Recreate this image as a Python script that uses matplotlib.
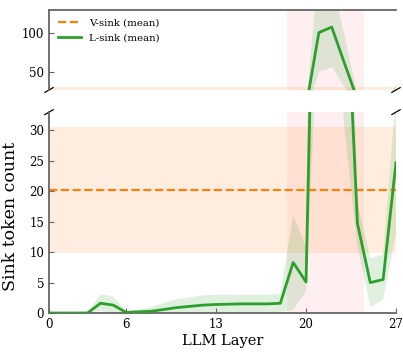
import numpy as np
import matplotlib
matplotlib.use('Agg')
import matplotlib.pyplot as plt

plt.rcParams['font.family'] = 'DejaVu Serif'

# Data
layers = list(range(28))
l_sink_mean = [0, 0, 0, 0, 1.6, 1.3, 0.1, 0.2, 0.3, 0.6, 0.9, 1.1, 1.3, 1.4,
               1.45, 1.5, 1.5, 1.5, 1.6, 8.3, 5.1, 101, 108, 61, 14.7, 5.0, 5.5, 24.7]
l_sink_upper = [0, 0, 0, 0, 3.1, 2.7, 0.3, 0.6, 1.0, 1.7, 2.3, 2.6, 2.9, 3.0,
                3.0, 3.0, 3.0, 3.0, 3.2, 16.0, 11.0, 200, 165, 95, 18.0, 9.0, 9.6, 36.0]
l_sink_lower = [0, 0, 0, 0, 0.3, 0.0, 0.0, 0.0, 0.0, 0.0, 0.0, 0.0, 0.0, 0.1,
                0.1, 0.1, 0.1, 0.1, 0.2, 0.5, 3.5, 51, 57, 30, 11.0, 1.0, 2.2, 13.0]
v_sink_mean = 20.15
v_sink_std = 10.35
highlight_layers = (18.5, 24.5)
xticks = [0, 6, 13, 20, 27]

ORANGE = '#ff7f0e'
GREEN = '#2ca02c'
SPINE = '#666666'

fig = plt.figure(figsize=(4.03, 3.53), dpi=100)
ax_top = fig.add_axes([0.1216, 0.745, 0.861, 0.2266])
ax_bot = fig.add_axes([0.1216, 0.1133, 0.861, 0.569])

for ax in (ax_top, ax_bot):
    ax.axvspan(*highlight_layers, color='#ffc0c8', alpha=0.25, lw=0, zorder=0)
    ax.axhspan(v_sink_mean - v_sink_std, v_sink_mean + v_sink_std,
               color=ORANGE, alpha=0.13, lw=0, zorder=0)
    ax.axhline(v_sink_mean, color=ORANGE, ls='--', lw=1.6, label='V-sink (mean)', zorder=2)
    ax.fill_between(layers, l_sink_lower, l_sink_upper, color=GREEN, alpha=0.15,
                    lw=0, zorder=1)
    ax.plot(layers, l_sink_mean, color=GREEN, lw=2, label='L-sink (mean)', zorder=3)
    ax.set_xlim(0, 27)
    ax.tick_params(direction='in', labelsize=8.5, color=SPINE, length=3.5)
    ax.spines['right'].set_visible(False)
    for s in ('left', 'top', 'bottom'):
        ax.spines[s].set_color(SPINE)
        ax.spines[s].set_linewidth(1.3)

ax_top.set_ylim(27, 130)
ax_top.set_yticks([50, 100])
ax_top.spines['bottom'].set_visible(False)
ax_top.tick_params(bottom=False, labelbottom=False)

ax_bot.set_ylim(0, 33)
ax_bot.set_yticks([0, 5, 10, 15, 20, 25, 30])
ax_bot.set_xticks(xticks)
ax_bot.spines['top'].set_visible(False)

ax_bot.set_xlabel('LLM Layer', fontsize=10.5, labelpad=2)
ax_bot.set_ylabel('Sink token count', fontsize=12.5)
ax_bot.yaxis.set_label_coords(-0.086, 0.483)

ax_top.legend(loc='upper left', frameon=False, fontsize=7.3, handlelength=2.3,
              borderaxespad=0.45, labelspacing=0.6)

# break marks
d = 0.012
kw = dict(color='k', clip_on=False, lw=0.9)
for x0 in (0, 1):
    ax_top.plot((x0 - d, x0 + d), (-d * 2.5, d * 2.5), transform=ax_top.transAxes, **kw)
    ax_bot.plot((x0 - d, x0 + d), (1 - d, 1 + d), transform=ax_bot.transAxes, **kw)

fig.savefig('out.png', dpi=100)
